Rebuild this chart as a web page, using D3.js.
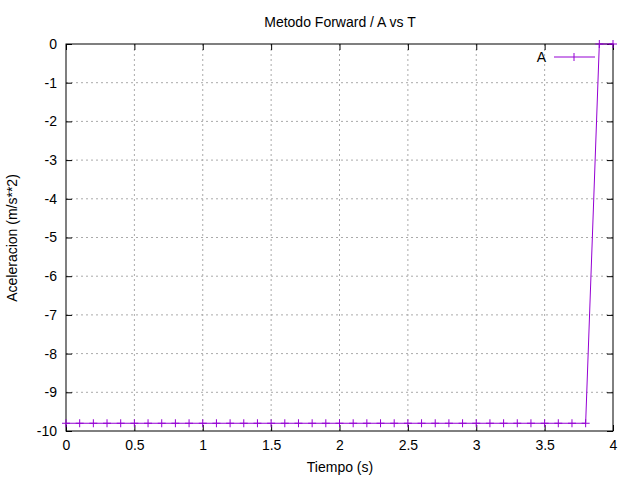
<!DOCTYPE html><html><head><script src="https://d3js.org/d3.v7.min.js"></script>
<style>body{margin:0;background:#fff}</style></head><body><svg id="c" width="640" height="480"></svg><script>
const times=[0,0.1,0.2,0.3,0.4,0.5,0.6,0.7,0.8,0.9,1,1.1,1.2,1.3,1.4,1.5,1.6,1.7,1.8,1.9,2,2.1,2.2,2.3,2.4,2.5,2.6,2.7,2.8,2.9,3,3.1,3.2,3.3,3.4,3.5,3.6,3.7,3.8,3.9,4.0];
const accel=times.map((t,i)=>i<=38?-9.8:0);
const xTicks=[0,0.5,1,1.5,2,2.5,3,3.5,4];
const yTicks=[0,-1,-2,-3,-4,-5,-6,-7,-8,-9,-10];
const svg=d3.select("#c"),L=66,R=613,T=44,B=431,F="Liberation Sans, Arial, sans-serif";
const x=d3.scaleLinear().domain([0,4]).range([L,R]),y=d3.scaleLinear().domain([-10,0]).range([B,T]);
const g=svg.append("g");
xTicks.forEach(t=>{if(t>0&&t<4)g.append("line").attr("x1",x(t)).attr("x2",x(t)).attr("y1",T).attr("y2",B).attr("stroke","#aaa").attr("stroke-dasharray","2,3");});
yTicks.forEach(t=>{if(t>-10&&t<0)g.append("line").attr("x1",L).attr("x2",R).attr("y1",y(t)).attr("y2",y(t)).attr("stroke","#aaa").attr("stroke-dasharray","2,3");});
svg.append("g").attr("transform",`translate(0,${B})`).call(d3.axisBottom(x).tickValues(xTicks).tickSize(-6).tickPadding(9).tickFormat(d=>d)).call(a=>{a.select(".domain").remove();a.selectAll("text").attr("font-size",14).attr("font-family",F);});
svg.append("g").attr("transform",`translate(${L},0)`).call(d3.axisLeft(y).tickValues(yTicks).tickSize(-6).tickPadding(9).tickFormat(d=>d)).call(a=>{a.select(".domain").remove();a.selectAll("text").attr("font-size",14).attr("font-family",F);});
svg.append("g").attr("transform",`translate(0,${T})`).call(d3.axisTop(x).tickValues(xTicks).tickSize(-6).tickFormat("")).select(".domain").remove();
svg.append("g").attr("transform",`translate(${R},0)`).call(d3.axisRight(y).tickValues(yTicks).tickSize(-6).tickFormat("")).select(".domain").remove();
svg.append("rect").attr("x",L).attr("y",T).attr("width",R-L).attr("height",B-T).attr("fill","none").attr("stroke","#000");
const c="#9400d3";
svg.append("path").datum(times.map((t,i)=>[t,accel[i]])).attr("d",d3.line().x(d=>x(d[0])).y(d=>y(d[1]))).attr("fill","none").attr("stroke",c);
svg.selectAll(".p").data(times).join("line").attr("x1",t=>x(t)).attr("x2",t=>x(t)).attr("y1",(t,i)=>y(accel[i])-4).attr("y2",(t,i)=>y(accel[i])+4).attr("stroke",c);
svg.selectAll(".q").data(times).join("line").attr("x1",t=>x(t)-4).attr("x2",t=>x(t)+4).attr("y1",(t,i)=>y(accel[i])).attr("y2",(t,i)=>y(accel[i])).attr("stroke",c);
svg.append("line").attr("x1",554).attr("x2",595).attr("y1",57).attr("y2",57).attr("stroke",c);
svg.append("line").attr("x1",574).attr("x2",574).attr("y1",53).attr("y2",61).attr("stroke",c);
svg.append("text").attr("x",546).attr("y",62).attr("text-anchor","end").attr("font-size",14).attr("font-family",F).text("A");
svg.append("text").attr("x",340).attr("y",27).attr("text-anchor","middle").attr("font-size",14).attr("font-family",F).text("Metodo Forward / A vs T");
svg.append("text").attr("x",340).attr("y",472).attr("text-anchor","middle").attr("font-size",14).attr("font-family",F).text("Tiempo (s)");
svg.append("text").attr("transform","translate(17,238) rotate(-90)").attr("text-anchor","middle").attr("font-size",14).attr("font-family",F).text("Aceleracion (m/s**2)");
</script></body></html>
